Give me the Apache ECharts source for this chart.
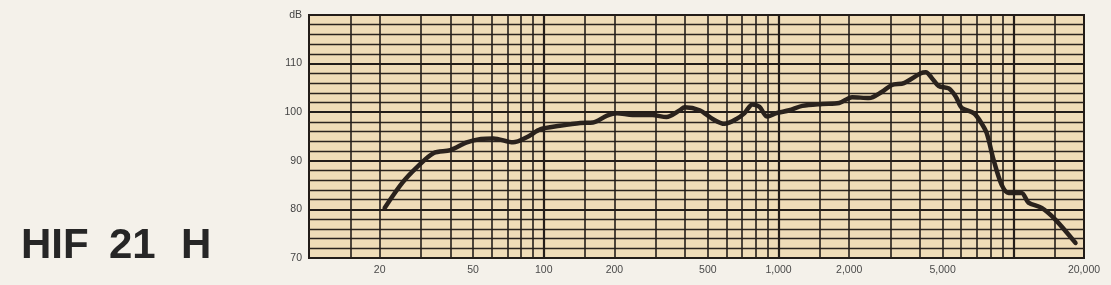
<!DOCTYPE html>
<html><head><meta charset="utf-8">
<script src="https://cdn.jsdelivr.net/npm/echarts@6/dist/echarts.min.js"></script>
<style>html,body{margin:0;padding:0;background:#f4f1ea;}#c{width:1111px;height:285px;}</style>
</head><body><div id="c"></div>
<script>
const freq = [21,25,29,34,40,47,54,61,74,85,97,117,143,162,186,205,239,290,333,380,398,461,524,589,662,716,774,829,896,979,1111,1262,1534,1812,2057,2427,2760,3041,3420,4037,4242,4500,4810,5310,5690,6030,6780,7260,7700,8240,8910,9550,10840,11600,13200,15100,18400];
const db = [80.3,85.5,88.8,91.6,92.2,93.8,94.5,94.6,93.8,94.9,96.5,97.2,97.8,97.9,99.3,99.8,99.4,99.4,99.0,100.4,101.0,100.4,98.6,97.6,98.6,99.8,101.6,101.1,99.1,99.8,100.4,101.3,101.7,101.9,103.1,102.9,104.2,105.6,106.0,108.0,108.2,107.0,105.4,104.9,103.2,100.9,99.8,98.0,95.7,90.2,85.1,83.4,83.4,81.4,80.3,77.9,73.1];
const gridFreqs = [15,20,30,40,50,60,70,80,90,100,150,200,300,400,500,600,700,800,900,1000,1500,2000,3000,4000,5000,6000,7000,8000,9000,10000,15000];
const xTickLabels = [20,50,100,200,500,1000,2000,5000,20000];
const title = ['HIF','21','H'];

const chart = echarts.init(document.getElementById('c'));
chart.setOption({
  animation:false,
  backgroundColor:'#f4f1ea',
  grid:{left:309,right:27,top:15,bottom:27,show:true,backgroundColor:'#efdcb8',borderColor:'#221c18',borderWidth:2},
  xAxis:{type:'log',logBase:10,min:10,max:20000,
    axisLine:{show:false},axisTick:{show:false},splitLine:{show:false},minorSplitLine:{show:false},
    axisLabel:{customValues:xTickLabels,color:'#4a4a4a',fontSize:10.5,fontFamily:'Liberation Sans',margin:7,
      formatter:v=>Number(v).toLocaleString('en-US')}},
  yAxis:{type:'value',min:70,max:120,interval:10,
    axisLine:{show:false},axisTick:{show:false},
    axisLabel:{color:'#444',fontSize:10.5,fontFamily:'Liberation Sans',margin:7,formatter:v=>v===120?'dB':String(v)},
    splitLine:{show:true,lineStyle:{color:'#221c18',width:2.2}},
    minorTick:{show:false,splitNumber:5},
    minorSplitLine:{show:true,lineStyle:{color:'#2a231e',width:1.4}}},
  graphic:[
    {type:'text',left:21,top:225,style:{text:title[0],font:'bold 42px "Liberation Sans"',fill:'#262626'}},
    {type:'text',left:109,top:225,style:{text:title[1],font:'bold 42px "Liberation Sans"',fill:'#262626'}},
    {type:'text',left:181,top:225,style:{text:title[2],font:'bold 42px "Liberation Sans"',fill:'#262626'}}
  ],
  series:[
    {type:'line',data:[],silent:true,
      markLine:{silent:true,symbol:'none',animation:false,label:{show:false},
        lineStyle:{type:'solid',color:'#241d19',width:1.6},
        data:gridFreqs.map(f=>({xAxis:f, lineStyle:{width:(f===100||f===1000||f===10000)?2.2:1.6}}))}},
    {type:'line',data:freq.map((f,i)=>[f,db[i]]),smooth:0.3,symbol:'none',
      lineStyle:{color:'#2a221d',width:4.5,cap:'round',join:'round'}}
  ]
});
</script></body></html>
